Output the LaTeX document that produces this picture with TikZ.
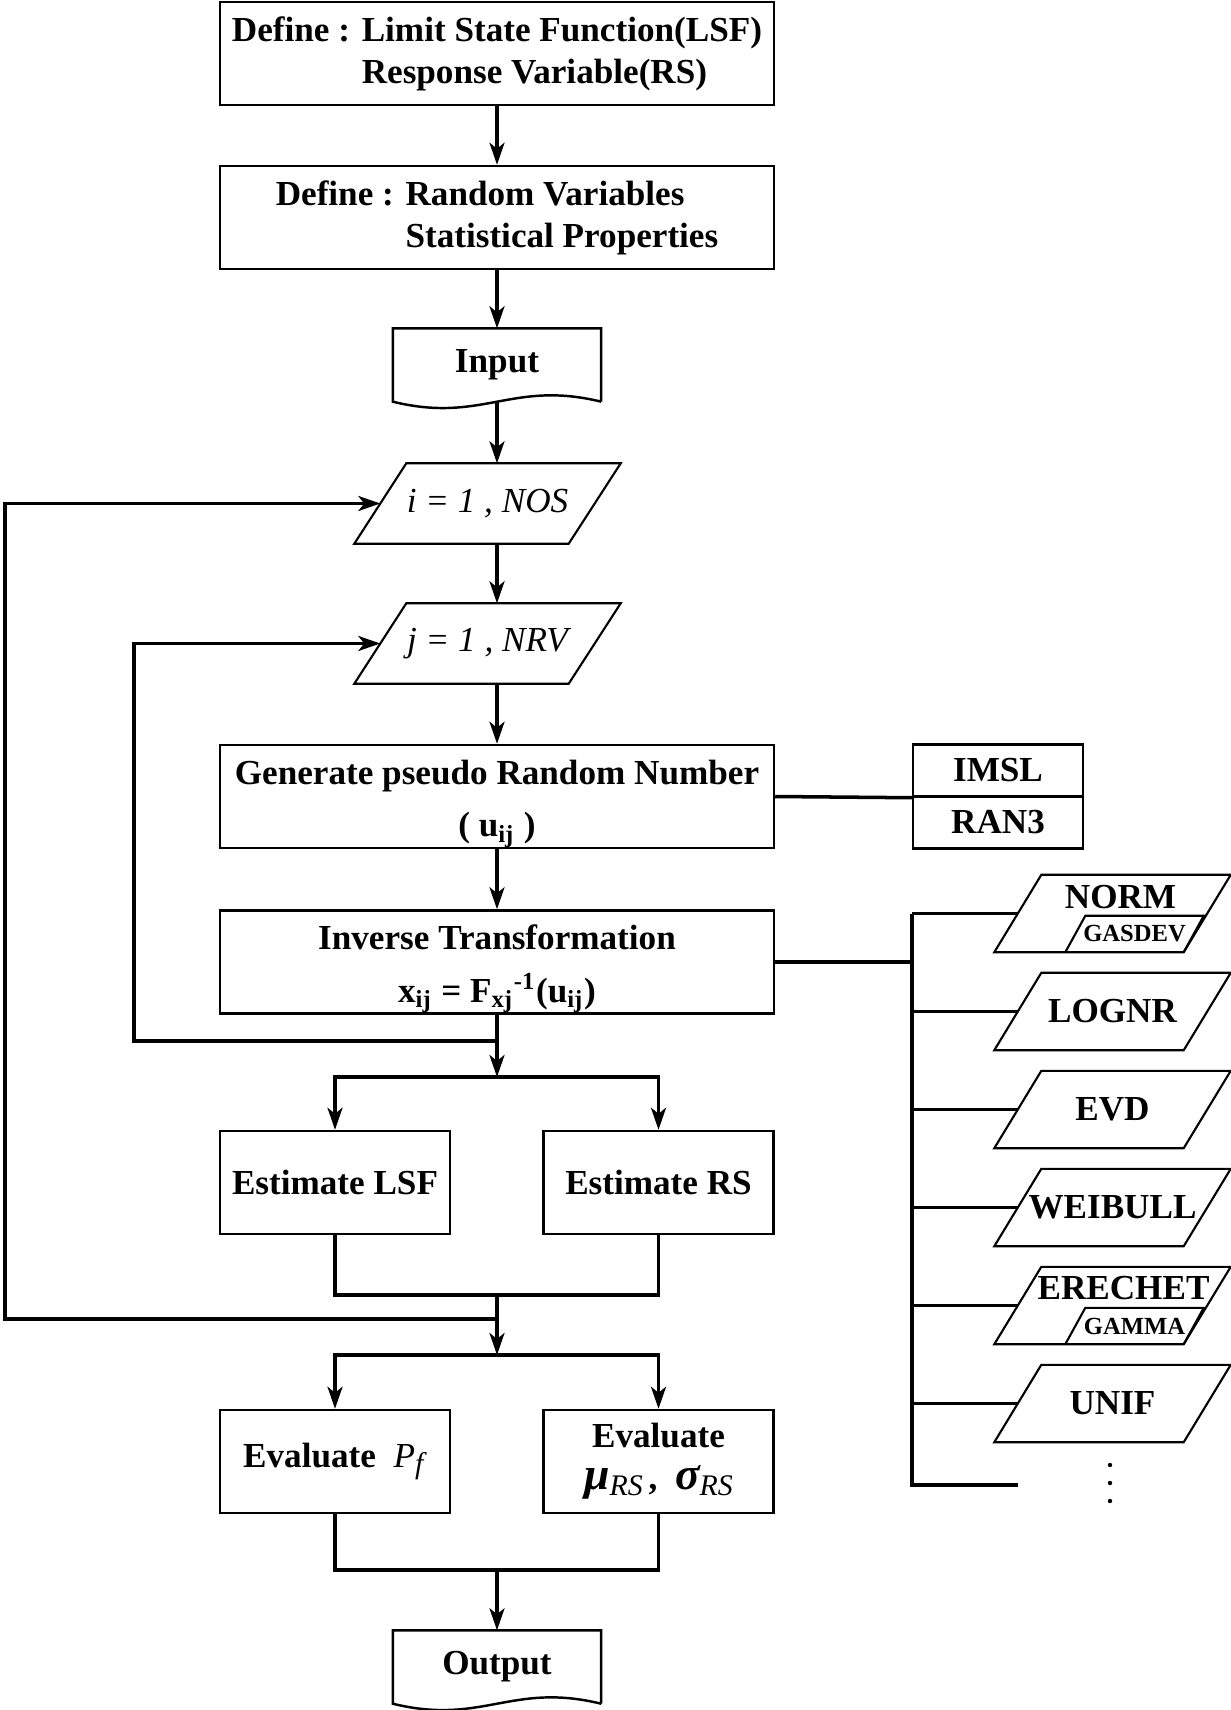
\documentclass[tikz,border=0pt]{standalone}
\usepackage{fontspec}
\setmainfont{Liberation Serif}
\usetikzlibrary{arrows.meta}
\newcommand{\lowsub}[1]{\raisebox{-0.35ex}{\fontsize{8.5}{9}\selectfont #1}}

\begin{document}
\begin{tikzpicture}[
    mainbox/.style={draw, line width=0.7pt, minimum width=5.54cm, minimum height=1.03cm, align=center, font=\bfseries},
    halfbox/.style={mainbox, minimum width=2.30cm},
    libbox/.style={draw, line width=0.7pt, minimum width=1.70cm, minimum height=0.52cm, font=\bfseries},
    docbox/.style={minimum width=2.07cm, minimum height=0.72cm, font=\bfseries},
    loopbox/.style={minimum width=2.65cm, minimum height=0.79cm, inner sep=0pt, font=\itshape},
    distbox/.style={minimum width=2.35cm, minimum height=0.76cm, inner sep=0pt, font=\bfseries},
    subbox/.style={minimum width=1.37cm, minimum height=0.35cm, inner sep=0pt, font=\bfseries\fontsize{7}{8}\selectfont},
    outline/.style={line width=0.6pt, line join=miter},
    conn/.style={line width=1pt},
    arr/.style={conn, -{Stealth[length=2.2mm, width=1.5mm, inset=0.6mm]}}
  ]
  \useasboundingbox (0,0) rectangle (12.31,-17.10);

  \node[mainbox, align=left] (def1) at (4.97,-0.535) {Define : Limit State Function(LSF)\\\phantom{Define : }Response Variable(RS)};
  \node[mainbox, align=left] (def2) at (4.97,-2.175) {Define : Random Variables\\\phantom{Define : }Statistical Properties};
  \node[docbox] (input) at (4.97,-3.65) {Input};
  \draw[line width=0.7pt] (input.south east) -- (input.north east) -- (input.north west) -- (input.south west)
    .. controls +(0.9,-0.22) and +(-0.9,0.22) .. (input.south east);

  \node[loopbox] (iloop) at (4.875,-5.035) {i = 1 , NOS};
  \node[loopbox] (jloop) at (4.875,-6.435) {j = 1 , NRV};
  \foreach \n in {iloop, jloop}
  \draw[outline] ([xshift=0.52cm]\n.north west) -- (\n.north east) -- ([xshift=-0.52cm]\n.south east) -- (\n.south west) -- cycle;

  \node[mainbox, inner ysep=0pt] (gen) at (4.97,-7.965) {\rule{0pt}{11pt}Generate pseudo Random Number\\[3pt]( u\textsubscript{ij} )};
  \node[mainbox, inner ysep=0pt] (inv) at (4.97,-9.62) {\rule{0pt}{11pt}Inverse Transformation\\[3pt]x\textsubscript{ij} = F\textsubscript{xj}\textsuperscript{-1}(u\textsubscript{ij})};

  \node[halfbox] (lsf) at (3.35,-11.825) {Estimate LSF};
  \node[halfbox] (rs) at (6.585,-11.825) {Estimate RS};
  \node[halfbox] (pf) at (3.35,-14.615) {Evaluate~~\textit{\mdseries P}\lowsub{\textit{\mdseries f}}};
  \node[halfbox] (murs) at (6.585,-14.615) {Evaluate\\{\fontsize{13}{14}\selectfont\itshape μ}\lowsub{\mdseries\itshape RS}\,, \ {\fontsize{13}{14}\selectfont\itshape σ}\lowsub{\mdseries\itshape RS}};

  \node[docbox] (output) at (4.97,-16.67) {Output};
  \draw[line width=0.7pt] (output.south east) -- (output.north east) -- (output.north west) -- (output.south west)
    .. controls +(0.9,-0.22) and +(-0.9,0.22) .. (output.south east);

  \coordinate (jret) at (4.97,-10.41);
  \coordinate (split1) at (4.97,-10.77);
  \coordinate (merge1) at (4.97,-12.95);
  \coordinate (iret) at (4.97,-13.19);
  \coordinate (split2) at (4.97,-13.55);
  \coordinate (merge2) at (4.97,-15.70);

  \draw[arr] (def1) -- (def2);
  \draw[arr] (def2) -- (input);
  \draw[arr] (input.south) -- (input.south |- iloop.north);
  \draw[arr] (iloop.south -| input.south) -- (jloop.north -| input.south);
  \draw[arr] (jloop.south -| gen.north) -- (gen);
  \draw[arr] (gen) -- (inv);
  \draw[arr] (inv) -- (split1);
  \draw[arr] (split1) -| (lsf);
  \draw[arr] (split1) -| (rs);
  \draw[conn] (lsf) |- (merge1) -| (rs);
  \draw[arr] (merge1) -- (split2);
  \draw[arr] (split2) -| (pf);
  \draw[arr] (split2) -| (murs);
  \draw[conn] (pf) |- (merge2) -| (murs);
  \draw[arr] (merge2) -- (output);

  \draw[arr] (jret) -- ++(-3.63,0) |- ([xshift=0.26cm]jloop.west);
  \draw[arr] (iret) -- ++(-4.92,0) |- ([xshift=0.26cm]iloop.west);

  \node[libbox] (imsl) at (9.98,-7.705) {IMSL};
  \node[libbox] (ran3) at (9.98,-8.225) {RAN3};
  \draw[conn] (gen.east) -- (imsl.south west);

  \coordinate (bustop) at (9.12,-9.135);
  \coordinate (busbot) at (9.12,-14.85);
  \draw[conn] (inv.east) -- (inv.east -| bustop);
  \draw[conn] (bustop) -- (busbot) -- ++(1.06,0);

  \foreach \name/\txt [count=\k from 0] in {norm/{}, lognr/LOGNR, evd/EVD, weibull/WEIBULL, erechet/{}, unif/UNIF} {
    \node[distbox] (\name) at (11.125,-9.135-0.98*\k) {\txt};
    \draw[outline] ([xshift=0.47cm]\name.north west) -- (\name.north east) -- ([xshift=-0.47cm]\name.south east) -- (\name.south west) -- cycle;
    \draw[conn] (\name.west -| bustop) -- ([xshift=0.235cm]\name.west);
  }
  \node[font=\bfseries] (normtxt) at ([xshift=0.08cm, yshift=0.165cm]norm.center) {NORM};
  \node[subbox, anchor=south east] (gasdev) at ([xshift=-0.27cm]norm.south east) {GASDEV};
  \node[font=\bfseries] (erechettxt) at ([xshift=0.11cm, yshift=0.175cm]erechet.center) {ERECHET};
  \node[subbox, anchor=south east] (gamma) at ([xshift=-0.27cm]erechet.south east) {GAMMA};
  \foreach \n in {gasdev, gamma}
  \draw[outline] (\n.south west) -- ([xshift=0.2cm]\n.north west) -- (\n.north east) -- ([xshift=-0.2cm]\n.south east);

  \foreach \y in {14.65, 14.83, 15.01}
  \fill (11.10,-\y) circle (0.022);
\end{tikzpicture}
\end{document}
